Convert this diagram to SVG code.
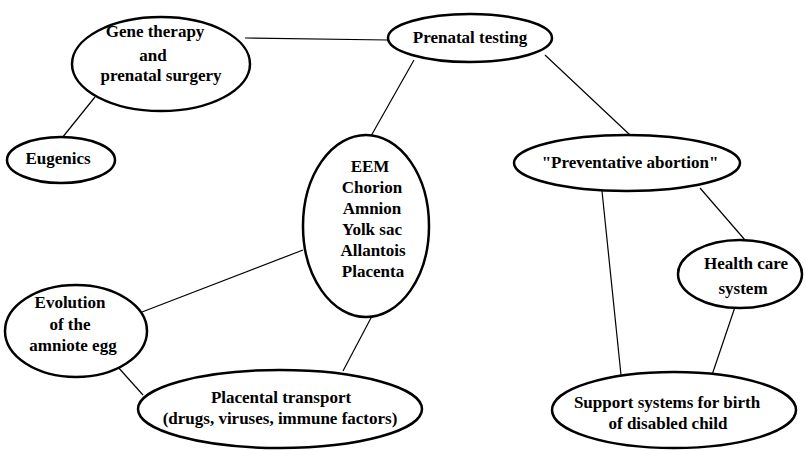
<svg xmlns="http://www.w3.org/2000/svg" width="806" height="451" viewBox="0 0 806 451">
<style>
.n ellipse{fill:#fff;stroke:#000;stroke-width:2.5}
.n text{font-family:'Liberation Serif','Times New Roman',serif;font-weight:bold;font-size:17px;fill:#000;text-anchor:middle}
.c line{stroke:#000;stroke-width:1.2}
</style>
<rect width="806" height="451" fill="#fff"/>
<g class="c" id="connectors">
<line x1="245" y1="38" x2="388" y2="40"/>
<line x1="95" y1="97" x2="62" y2="138"/>
<line x1="414" y1="60" x2="371" y2="136"/>
<line x1="545" y1="55" x2="630" y2="135"/>
<line x1="700" y1="188" x2="745" y2="240"/>
<line x1="602" y1="191" x2="621" y2="375"/>
<line x1="735" y1="307" x2="712" y2="375"/>
<line x1="303" y1="250" x2="142" y2="312"/>
<line x1="372" y1="316" x2="343" y2="371"/>
<line x1="117" y1="366" x2="143" y2="395"/>
</g>
<g class="n" id="gene">
<ellipse cx="161" cy="64" rx="89" ry="47"/>
<text x="155" y="37">Gene therapy</text>
<text x="153" y="61">and</text>
<text x="161" y="81">prenatal surgery</text>
</g>
<g class="n" id="prenatal">
<ellipse cx="470" cy="38" rx="82" ry="24"/>
<text x="470" y="43">Prenatal testing</text>
</g>
<g class="n" id="eugenics">
<ellipse cx="61" cy="160" rx="54" ry="23"/>
<text x="58" y="164">Eugenics</text>
</g>
<g class="n" id="eem">
<ellipse cx="366" cy="226" rx="63" ry="91"/>
<text x="370" y="172">EEM</text>
<text x="372" y="193">Chorion</text>
<text x="372" y="214">Amnion</text>
<text x="372" y="235">Yolk sac</text>
<text x="373" y="256">Allantois</text>
<text x="373" y="277">Placenta</text>
</g>
<g class="n" id="abortion">
<ellipse cx="627" cy="163" rx="113" ry="28"/>
<text x="630" y="168">"Preventative abortion"</text>
</g>
<g class="n" id="health">
<ellipse cx="740" cy="274" rx="62" ry="34"/>
<text x="746" y="269">Health care</text>
<text x="743" y="294">system</text>
</g>
<g class="n" id="evolution">
<ellipse cx="76" cy="331" rx="71" ry="46"/>
<text x="70" y="308">Evolution</text>
<text x="70" y="330">of the</text>
<text x="73" y="351">amniote egg</text>
</g>
<g class="n" id="placental">
<ellipse cx="280" cy="409" rx="142" ry="39"/>
<text x="281" y="403">Placental transport</text>
<text x="280" y="424">(drugs, viruses, immune factors)</text>
</g>
<g class="n" id="support">
<ellipse cx="674" cy="410" rx="122" ry="38"/>
<text x="667" y="408">Support systems for birth</text>
<text x="668" y="429">of disabled child</text>
</g>
</svg>
